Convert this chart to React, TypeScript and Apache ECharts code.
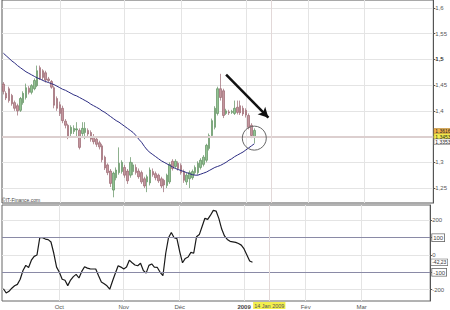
import React, { useEffect, useRef } from "react";
import * as echarts from "echarts";

const FIRST_DAY = "2008-09-03";
const LAST_DAY = "2009-04-03";

function weekdays(from: string, to: string): string[] {
  const out: string[] = [];
  const d = new Date(from + "T00:00:00Z");
  const end = new Date(to + "T00:00:00Z");
  while (d <= end) {
    const wd = d.getUTCDay();
    if (wd !== 0 && wd !== 6) out.push(d.toISOString().slice(0, 10));
    d.setUTCDate(d.getUTCDate() + 1);
  }
  return out;
}
const DATES = weekdays(FIRST_DAY, LAST_DAY);

const MONTH_LABELS: Record<string, string> = {
  "2008-10-01": "Oct",
  "2008-11-03": "Nov",
  "2008-12-01": "Déc",
  "2009-01-01": "2009",
  "2009-02-02": "Fév",
  "2009-03-02": "Mar",
};
const MARK_DATE = "2009-01-14";
const MARK_DATE_LABEL = "14 Jan 2009";

const PRICE_TICKS = [1.25, 1.3, 1.35, 1.4, 1.45, 1.5, 1.55, 1.6];
const CCI_TICKS = [-200, -100, 0, 100, 200];
const CCI_BANDS = [100, -100];

// [open, close, low, high]
const CANDLES: number[][] = [
  [1.452, 1.438, 1.432, 1.456], [1.434, 1.425, 1.421, 1.438], [1.443, 1.420, 1.416, 1.447],
  [1.430, 1.414, 1.410, 1.433], [1.416, 1.405, 1.400, 1.420], [1.410, 1.400, 1.391, 1.414],
  [1.401, 1.424, 1.398, 1.427], [1.416, 1.434, 1.412, 1.438], [1.426, 1.445, 1.422, 1.453],
  [1.444, 1.436, 1.432, 1.448], [1.436, 1.449, 1.432, 1.452], [1.443, 1.459, 1.440, 1.463],
  [1.449, 1.478, 1.446, 1.488], [1.484, 1.463, 1.460, 1.488], [1.478, 1.465, 1.460, 1.481],
  [1.474, 1.460, 1.455, 1.478], [1.462, 1.459, 1.455, 1.466], [1.457, 1.446, 1.443, 1.460],
  [1.445, 1.411, 1.405, 1.448], [1.424, 1.405, 1.400, 1.428], [1.412, 1.395, 1.390, 1.418],
  [1.405, 1.381, 1.376, 1.410], [1.380, 1.372, 1.366, 1.384], [1.372, 1.349, 1.345, 1.375],
  [1.356, 1.368, 1.350, 1.372], [1.360, 1.366, 1.355, 1.372], [1.363, 1.365, 1.349, 1.378],
  [1.362, 1.329, 1.325, 1.366], [1.356, 1.366, 1.350, 1.378], [1.358, 1.366, 1.345, 1.378],
  [1.362, 1.355, 1.350, 1.366], [1.358, 1.345, 1.340, 1.362], [1.350, 1.340, 1.335, 1.355],
  [1.345, 1.335, 1.330, 1.348], [1.338, 1.330, 1.325, 1.342], [1.332, 1.305, 1.300, 1.336],
  [1.310, 1.289, 1.285, 1.313], [1.295, 1.280, 1.275, 1.298], [1.283, 1.259, 1.252, 1.287],
  [1.246, 1.279, 1.232, 1.282], [1.270, 1.285, 1.265, 1.290], [1.280, 1.298, 1.276, 1.329],
  [1.282, 1.300, 1.278, 1.304], [1.290, 1.275, 1.270, 1.295], [1.283, 1.264, 1.258, 1.287],
  [1.275, 1.300, 1.270, 1.310], [1.282, 1.295, 1.275, 1.300], [1.290, 1.280, 1.276, 1.296],
  [1.283, 1.272, 1.268, 1.288], [1.280, 1.262, 1.258, 1.284], [1.268, 1.254, 1.250, 1.272],
  [1.262, 1.272, 1.242, 1.276], [1.260, 1.285, 1.255, 1.290], [1.282, 1.276, 1.272, 1.288],
  [1.278, 1.270, 1.265, 1.282], [1.275, 1.264, 1.260, 1.278], [1.268, 1.254, 1.250, 1.272],
  [1.265, 1.256, 1.242, 1.268], [1.255, 1.275, 1.250, 1.278], [1.262, 1.296, 1.258, 1.300],
  [1.302, 1.288, 1.284, 1.306], [1.292, 1.302, 1.288, 1.306], [1.298, 1.288, 1.284, 1.302],
  [1.294, 1.280, 1.276, 1.298], [1.282, 1.265, 1.260, 1.286], [1.262, 1.275, 1.256, 1.280],
  [1.268, 1.280, 1.250, 1.284], [1.270, 1.282, 1.266, 1.286], [1.280, 1.290, 1.276, 1.294],
  [1.280, 1.298, 1.276, 1.302], [1.290, 1.304, 1.286, 1.308], [1.296, 1.310, 1.292, 1.314],
  [1.304, 1.333, 1.300, 1.336], [1.327, 1.352, 1.323, 1.356], [1.352, 1.381, 1.348, 1.385],
  [1.368, 1.405, 1.364, 1.409], [1.395, 1.443, 1.391, 1.447], [1.443, 1.426, 1.420, 1.472],
  [1.439, 1.391, 1.386, 1.443], [1.395, 1.400, 1.392, 1.404], [1.398, 1.396, 1.392, 1.402],
  [1.397, 1.399, 1.394, 1.402], [1.395, 1.405, 1.392, 1.420], [1.407, 1.397, 1.393, 1.420],
  [1.410, 1.396, 1.392, 1.420], [1.405, 1.394, 1.390, 1.410], [1.401, 1.392, 1.387, 1.405],
  [1.391, 1.368, 1.364, 1.395], [1.372, 1.352, 1.347, 1.376], [1.350, 1.362, 1.337, 1.366],
];

const MA = [
  1.512, 1.507, 1.502, 1.497, 1.493, 1.488, 1.484, 1.480, 1.476, 1.473,
  1.470, 1.467, 1.464, 1.462, 1.459, 1.457, 1.455, 1.453, 1.451, 1.448,
  1.445, 1.442, 1.440, 1.437, 1.434, 1.431, 1.429, 1.426, 1.423, 1.420,
  1.417, 1.413, 1.410, 1.407, 1.404, 1.400, 1.397, 1.393, 1.389, 1.385,
  1.381, 1.378, 1.374, 1.370, 1.366, 1.362, 1.358, 1.352, 1.345, 1.339,
  1.331, 1.324, 1.319, 1.315, 1.311, 1.307, 1.303, 1.300, 1.297, 1.294,
  1.291, 1.288, 1.286, 1.284, 1.282, 1.280, 1.278, 1.276, 1.275, 1.275,
  1.277, 1.279, 1.281, 1.284, 1.287, 1.290, 1.292, 1.294, 1.297, 1.300,
  1.304, 1.307, 1.311, 1.314, 1.317, 1.320, 1.324, 1.328, 1.332, 1.336,
];

const CCI = [
  -195, -220, -210, -192, -178, -170, -140, -90, -60, -72,
  -30, -8, 0, 100, 100, 92, 89, 75, 10, -70,
  -100, -140, -146, -177, -145, -125, -112, -133, -95, -68,
  -76, -80, -81, -81, -120, -156, -166, -178, -198, -150,
  -106, -62, -70, -81, -70, -30, -45, -58, -62, -48,
  -90, -105, -60, -52, -71, -72, -100, -120, 10, 100,
  130, 100, 95, 20, -45, -20, -12, 15, 10, 105,
  118, 165, 212, 206, 230, 258, 254, 210, 150, 110,
  90, 79, 76, 73, 66, 57, 35, 0, -35, -42.23,
];

const PRICE_TAGS = [1.3616, 1.3453, 1.3353];
const CURRENT_LINE = 1.3475;
const ARROW_FROM: [number, number] = [79, 1.4704];
const ARROW_TO: [number, number] = [94, 1.3867];
const CIRCLE_AT: [number, number] = [89, 1.347];

const fmtComma = (v: number) => String(v).replace(".", ",");
const isMonthStart = (_i: number, v: string) => v in MONTH_LABELS;
const HIDDEN_LINE = { color: "rgba(0,0,0,0)", width: 0 };

export default function App() {
  const ref = useRef<HTMLDivElement>(null);
  useEffect(() => {
    if (!ref.current) return;
    const chart = echarts.init(ref.current, undefined, { renderer: "svg" });
    const tagStyles = [
      { backgroundColor: "#f2b64a", borderColor: "#c08a30" },
      { backgroundColor: "#f3ef4e", borderColor: "#b8b030" },
      { backgroundColor: "#ffffff", borderColor: "#777777" },
    ];
    const option: any = {
      animation: false,
      backgroundColor: "#ffffff",
      textStyle: { fontFamily: "Liberation Sans, Arial, sans-serif" },
      grid: [
        { left: 2, right: 16, top: -1, height: 204, show: true, borderColor: "#555", borderWidth: 1 },
        { left: 2, right: 16, top: 205, height: 96, show: true, borderColor: "#666", borderWidth: 1 },
      ],
      xAxis: [
        {
          type: "category", gridIndex: 0, data: DATES, boundaryGap: true,
          axisLine: { show: false }, axisTick: { show: false }, axisLabel: { show: false },
          splitLine: { show: true, interval: isMonthStart, alignWithLabel: true, lineStyle: { color: "#e4e4e4", width: 1 } },
        },
        {
          type: "category", gridIndex: 1, data: DATES, boundaryGap: true,
          axisLine: { show: false },
          axisTick: { show: false, alignWithLabel: true },
          axisLabel: {
            show: true, interval: isMonthStart, fontSize: 6, color: "#555", margin: 3,
            formatter: (v: string) => (MONTH_LABELS[v] === "2009" ? "{b|2009}" : MONTH_LABELS[v] || ""),
            rich: { b: { fontWeight: "bold", fontSize: 6, color: "#444" } },
          },
          splitLine: { show: true, interval: isMonthStart, alignWithLabel: true, lineStyle: { color: "#e4e4e4", width: 1 } },
        },
      ],
      yAxis: [
        {
          type: "value", gridIndex: 0, position: "right", min: 1.2209, max: 1.6155,
          axisLine: { show: true, lineStyle: { color: "#555" } },
          axisTick: { show: true, customValues: PRICE_TICKS, length: 2, lineStyle: { color: "#555" } },
          axisLabel: {
            customValues: PRICE_TICKS, fontSize: 6, color: "#555", margin: 2,
            formatter: (v: number) => (Math.abs(v - 1.35) < 1e-9 ? "" : Math.abs(v - 1.5) < 1e-9 ? "{b|1,5}" : fmtComma(v)),
            rich: { b: { fontWeight: "bold", fontSize: 6, color: "#333" } },
          },
          splitLine: { show: true, lineStyle: { color: "#e4e4e4", width: 1 } },
        },
        {
          type: "value", gridIndex: 1, position: "right", min: -266, max: 289,
          axisLine: { show: true, lineStyle: { color: "#555" } },
          axisTick: { show: true, customValues: CCI_TICKS, length: 2, lineStyle: { color: "#555" } },
          axisLabel: {
            customValues: CCI_TICKS, fontSize: 6, color: "#555", margin: 2,
            formatter: (v: number) => (CCI_BANDS.includes(v) ? `{box|${v}}` : String(v)),
            rich: { box: { fontSize: 6, color: "#444", borderColor: "#666", borderWidth: 0.8, padding: [1, 1, 0, 1], backgroundColor: "#fff" } },
          },
          splitLine: { show: true, lineStyle: { color: "#e4e4e4", width: 1 } },
        },
      ],
      graphic: [
        { type: "text", left: 2, top: 197, style: { text: "©IT-Finance.com", fontSize: 5, fill: "#444", fontFamily: "Liberation Sans, Arial, sans-serif" } },
      ],
      series: [
        {
          type: "candlestick", name: "Prix", xAxisIndex: 0, yAxisIndex: 0, data: CANDLES,
          barWidth: 2,
          itemStyle: { color: "#94c394", color0: "#c4969e", borderColor: "#5f8f5f", borderColor0: "#9a6670", borderWidth: 0.7 },
          markLine: {
            silent: true, symbol: ["none", "none"], animation: false,
            data: [
              { yAxis: CURRENT_LINE, lineStyle: { color: "#dccfcf", width: 2, type: "solid" }, label: { show: false } },
              { xAxis: MARK_DATE, lineStyle: { color: "#e2d8d8", width: 1, type: "solid" }, label: { show: false } },
              ...PRICE_TAGS.map((p, i) => ({
                yAxis: p,
                lineStyle: HIDDEN_LINE,
                label: {
                  show: true, position: "end", distance: 1, formatter: fmtComma(p), fontSize: 5, color: "#222",
                  padding: [0, 1, 0, 1], borderWidth: 0.6, lineHeight: 5, ...tagStyles[i],
                },
              })),
              [
                { coord: ARROW_FROM, symbol: "none", lineStyle: { color: "#111", width: 2.5, type: "solid" }, label: { show: false } },
                { coord: ARROW_TO, symbol: "arrow", symbolSize: [8, 10] },
              ],
            ],
          },
          markPoint: {
            silent: true,
            data: [{ coord: CIRCLE_AT, symbol: "circle", symbolSize: 24, itemStyle: { color: "rgba(0,0,0,0)", borderColor: "#666", borderWidth: 1 }, label: { show: false } }],
          },
        },
        {
          type: "line", name: "MM", xAxisIndex: 0, yAxisIndex: 0, data: MA,
          showSymbol: false, lineStyle: { color: "#2c2c82", width: 1 }, z: 3,
        },
        {
          type: "line", name: "CCI", xAxisIndex: 1, yAxisIndex: 1, data: CCI,
          showSymbol: false, lineStyle: { color: "#1a1a1a", width: 1.2 }, z: 3,
          markLine: {
            silent: true, symbol: ["none", "none"],
            data: [
              ...CCI_BANDS.map((b) => ({ yAxis: b, lineStyle: { color: "#8a8aa6", width: 1, type: "solid" }, label: { show: false } })),
              {
                xAxis: MARK_DATE, lineStyle: { color: "#e2d8d8", width: 1, type: "solid" },
                label: { show: true, position: "start", distance: 1, formatter: MARK_DATE_LABEL, fontSize: 5.5, color: "#555", backgroundColor: "#f3ef4e", padding: [1, 1, 0, 1] },
              },
              {
                yAxis: CCI[CCI.length - 1], lineStyle: HIDDEN_LINE,
                label: { show: true, position: "end", distance: 1, formatter: fmtComma(CCI[CCI.length - 1]), fontSize: 5, color: "#333", backgroundColor: "#fff", borderColor: "#666", borderWidth: 0.6, padding: [1, 1, 0, 1] },
              },
            ],
          },
        },
      ],
    };
    chart.setOption(option);
    return () => chart.dispose();
  }, []);
  return <div ref={ref} style={{ position: "absolute", left: 0, top: 0, width: 450, height: 310 }} />;
}
